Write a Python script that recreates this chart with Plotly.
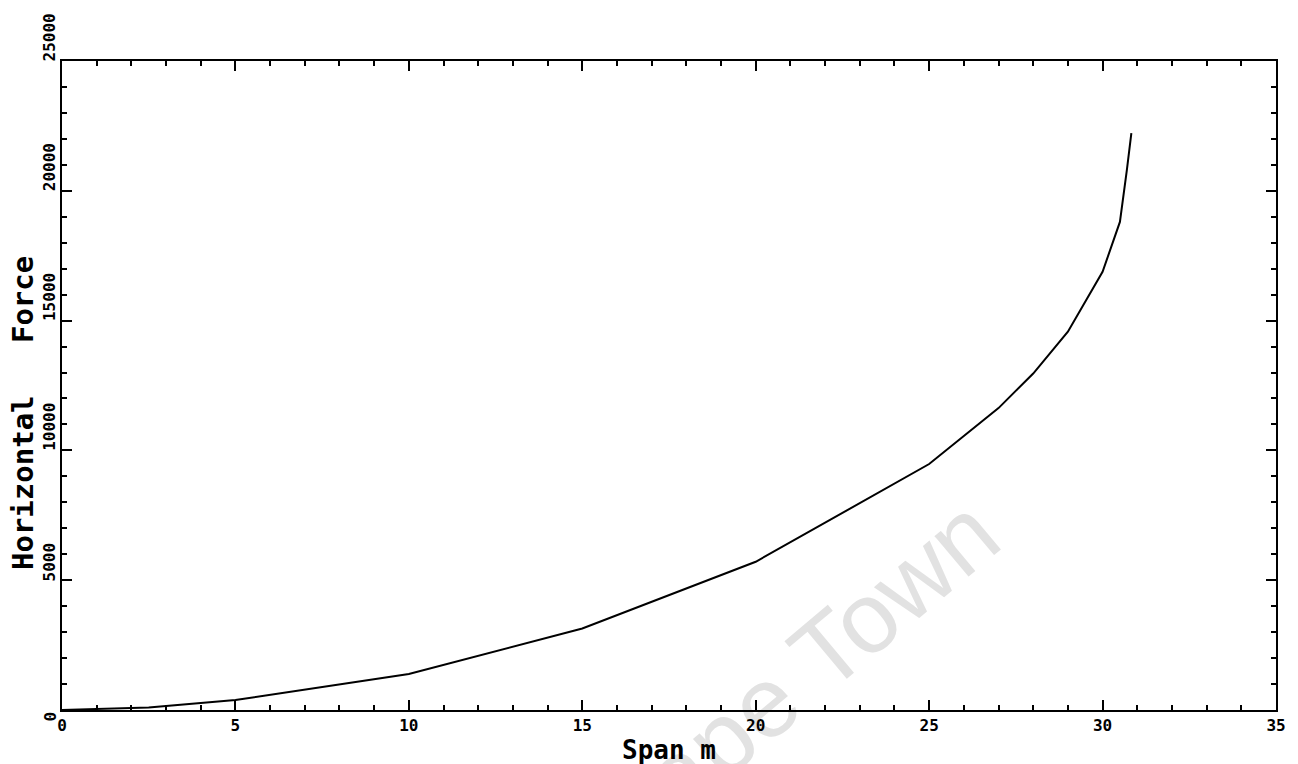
import plotly.graph_objects as go

# Data
span_m = [0, 2.5, 5, 10, 15, 20, 25, 27, 28, 29, 30, 30.5, 30.7, 30.83]
horizontal_force = [0, 100, 385, 1385, 3140, 5710, 9475, 11630, 12960, 14570, 16880, 18800, 20800, 22220]

x_ticks = [0, 5, 10, 15, 20, 25, 30, 35]
y_ticks = [0, 5000, 10000, 15000, 20000, 25000]
y_tick_labels = ["0", "5000", "10000", "15000", "20000", "25000"]

FONT = "DejaVu Sans Mono"
TICK_SIZE = 16

fig = go.Figure()
fig.add_trace(go.Scatter(x=span_m, y=horizontal_force, mode="lines",
                         line=dict(color="black", width=2), hoverinfo="skip",
                         showlegend=False))

axis_common = dict(showgrid=False, zeroline=False, showline=True, linecolor="black",
                   linewidth=2, mirror="allticks", ticks="inside", tickcolor="black",
                   tickwidth=1.5, ticklen=10)

fig.update_xaxes(range=[0, 35], tickvals=x_ticks, ticktext=[str(v) for v in x_ticks],
                 tickfont=dict(family=FONT, size=TICK_SIZE, color="black", weight="bold"),
                 minor=dict(dtick=1, ticks="inside", ticklen=5, tickcolor="black", tickwidth=1.5),
                 **axis_common)
fig.update_yaxes(range=[0, 25000], tickvals=y_ticks, showticklabels=False,
                 minor=dict(dtick=1000, ticks="inside", ticklen=5, tickcolor="black", tickwidth=1.5),
                 **axis_common)

# watermark as a label on an invisible shape drawn below everything else
fig.add_shape(type="line", xref="paper", yref="paper", x0=0.597, x1=0.597, y0=0.059, y1=0.059,
              line=dict(width=0, color="rgba(0,0,0,0)"), layer="below",
              label=dict(text="Cape Town", textangle=-40, textposition="middle",
                         xanchor="center", yanchor="middle",
                         font=dict(family="Liberation Sans", size=100, color="#e2e2e2")))

annotations = []
# rotated y tick labels, reading upward from the tick
for v, t in zip(y_ticks, y_tick_labels):
    if v == 0:
        ys = -7
    else:
        ys = -1 + len(t) * 0.602 * TICK_SIZE / 2
    annotations.append(dict(x=0, xref="paper", y=v, yref="y", text=t, showarrow=False,
                            textangle=-90, xanchor="right", yanchor="middle",
                            xshift=-1, yshift=ys,
                            font=dict(family=FONT, size=TICK_SIZE, color="black", weight="bold")))
# axis titles
annotations.append(dict(x=0.5, xref="paper", y=0, yref="paper", text="Span m", showarrow=False,
                        xanchor="center", yanchor="top", yshift=-23,
                        font=dict(family=FONT, size=26, color="black", weight="bold")))
annotations.append(dict(x=0, xref="paper", y=0.4576, yref="paper",
                        text="Horizontal\u00a0\u00a0\u00a0Force",
                        showarrow=False, textangle=-90, xanchor="center", yanchor="middle",
                        xshift=-39,
                        font=dict(family=FONT, size=29, color="black", weight="bold")))

fig.update_layout(width=1298, height=764, plot_bgcolor="white", paper_bgcolor="white",
                  margin=dict(l=62, r=18, t=61, b=54), annotations=annotations)

fig.write_html("out.html", post_script="document.body.style.margin='0px';",
               config={"displayModeBar": False})
